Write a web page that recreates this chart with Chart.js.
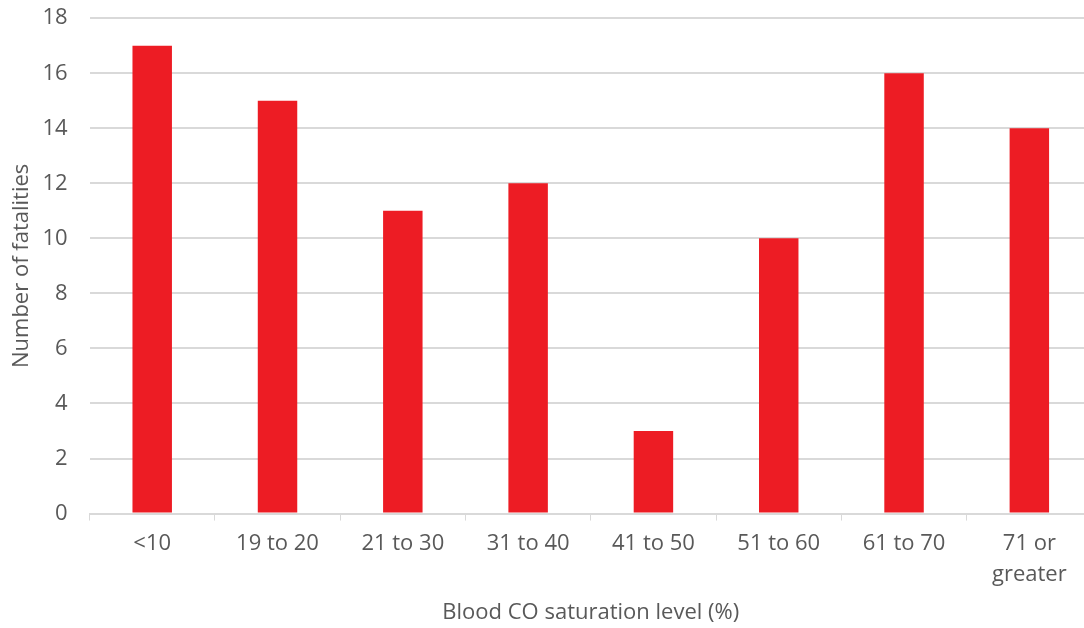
<!DOCTYPE html>
<html>
<head>
<meta charset="utf-8">
<script src="https://cdn.jsdelivr.net/npm/chart.js@4"></script>
<style>
  body { margin: 0; background: #fff; overflow: hidden; }
  /* the source chart is cropped at the top and right edge */
  #myChart { display: block; margin-top: -17px; }
</style>
</head>
<body>
<canvas id="myChart" width="1092" height="645"></canvas>
<script>
// category labels and counts
const categories = ["<10", "19 to 20", "21 to 30", "31 to 40", "41 to 50", "51 to 60", "61 to 70", ["71 or", "greater"]];
const fatalities = [17, 15, 11, 12, 3, 10, 16, 14];
const yTicks = [0, 2, 4, 6, 8, 10, 12, 14, 16, 18];

const textColor = "#595959";
const font = "'Open Sans', sans-serif";

const ctx = document.getElementById('myChart').getContext('2d');
new Chart(ctx, {
    type: 'bar',
    data: {
        labels: categories,
        datasets: [{
            label: "Number of fatalities",
            data: fatalities,
            backgroundColor: "#ED1C24",
            borderWidth: 0,
            categoryPercentage: 1,
            barPercentage: 0.315
        }]
    },
    options: {
        responsive: false,
        animation: false,
        layout: { padding: { left: 9, right: 0, top: 0, bottom: 2 } },
        plugins: {
            legend: { display: false },
            tooltip: { enabled: false }
        },
        scales: {
            x: {
                grid: {
                    offset: true,
                    drawOnChartArea: false,
                    drawTicks: true,
                    tickLength: 7,
                    color: "#d9d9d9"
                },
                border: { color: "#d9d9d9", width: 2 },
                ticks: {
                    color: textColor,
                    font: { family: font, size: 22, lineHeight: 1.41 },
                    padding: 8,
                    maxRotation: 0
                },
                title: {
                    display: true,
                    text: "Blood CO saturation level (%)",
                    color: textColor,
                    font: { family: font, size: 22 },
                    padding: { top: 1, bottom: 0 }
                }
            },
            y: {
                min: 0,
                max: 18,
                afterBuildTicks: axis => { axis.ticks = yTicks.map(v => ({ value: v })); },
                grid: {
                    color: "#d9d9d9",
                    lineWidth: 2,
                    drawTicks: false
                },
                border: { display: false },
                ticks: {
                    color: textColor,
                    font: { family: font, size: 22 },
                    padding: 22
                },
                title: {
                    display: true,
                    text: "Number of fatalities",
                    color: textColor,
                    font: { family: font, size: 22 },
                    padding: { top: 0, bottom: -15 }
                }
            }
        }
    }
});
</script>
</body>
</html>
